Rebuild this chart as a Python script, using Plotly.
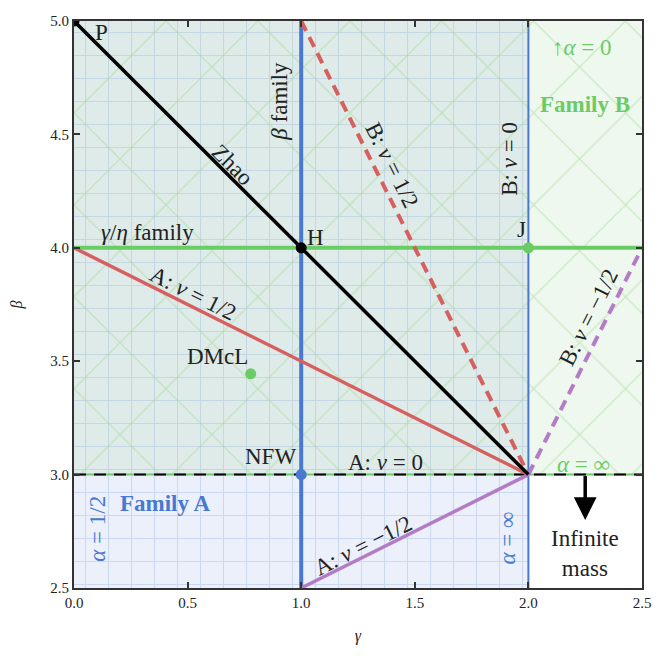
import plotly.graph_objects as go

# parameter-space boundaries
gamma_edges = [0.0, 2.0, 2.5]
beta_edges = [2.5, 3.0, 5.0]

# family curves (gamma, beta end points)
zhao_gamma = [0.0, 2.0]
zhao_beta = [5.0, 3.0]
a_half_gamma = [0.0, 2.0]
a_half_beta = [4.0, 3.0]
a_mhalf_gamma = [1.0, 2.0]
a_mhalf_beta = [2.5, 3.0]
b_half_gamma = [1.0, 2.0]
b_half_beta = [5.0, 3.0]
b_mhalf_gamma = [2.0, 2.5]
b_mhalf_beta = [3.0, 4.0]
beta_fam_gamma = [1.0, 1.0]
beta_fam_beta = [2.5, 5.0]
b_zero_gamma = [2.0, 2.0]
b_zero_beta = [2.5, 5.0]
ge_fam_gamma = [0.0, 2.5]
ge_fam_beta = [4.0, 4.0]
a_zero_gamma = [0.0, 2.5]
a_zero_beta = [3.0, 3.0]

# named models
pt_names = ["P", "H", "J", "NFW", "DMcL"]
pt_gamma = [0.0, 1.0, 2.0, 1.0, 7 / 9]
pt_beta = [5.0, 4.0, 4.0, 3.0, 31 / 9]

x_ticks = [0.0, 0.5, 1.0, 1.5, 2.0, 2.5]
y_ticks = [2.5, 3.0, 3.5, 4.0, 4.5, 5.0]

BLUE = "#4878CF"
GREEN = "#6ACC65"
RED = "#D65F5F"
PURPLE = "#B47CC7"
SERIF = "Liberation Serif"

g0, g1, g2 = gamma_edges
b0, b1, b2 = beta_edges


def rect(ga, gb, ba, bb):
    return [ga, gb, gb, ga, ga], [ba, ba, bb, bb, ba]


fig = go.Figure()

# background regions
x, y = rect(g0, g1, b0, b1)
fig.add_trace(go.Scatter(x=x, y=y, mode="lines", line=dict(width=0), fill="toself",
                         fillpattern=dict(shape="+", size=23, solidity=0.09,
                                          fgcolor="#a9c0ea", bgcolor="#ebf0fa")))
x, y = rect(g0, g1, b1, b2)
fig.add_trace(go.Scatter(x=x, y=y, mode="lines", line=dict(width=0), fill="toself",
                         fillpattern=dict(shape="+", size=23, solidity=0.09,
                                          fgcolor="#acc3dc", bgcolor="#dfebe8")))
x, y = rect(g1, g2, b1, b2)
fig.add_trace(go.Scatter(x=x, y=y, mode="lines", line=dict(width=0), fill="toself",
                         fillcolor="#eff8ef"))
x, y = rect(g0, g2, b1, b2)
fig.add_trace(go.Scatter(x=x, y=y, mode="lines", line=dict(width=0), fill="toself",
                         fillpattern=dict(shape="x", size=65, solidity=0.04,
                                          fgcolor="#a2da98", bgcolor="rgba(0,0,0,0)")))


def add_line(gx, by, color, width, dash="solid"):
    fig.add_trace(go.Scatter(x=gx, y=by, mode="lines",
                             line=dict(color=color, width=width, dash=dash)))


add_line(b_zero_gamma, b_zero_beta, BLUE, 2)
add_line(a_zero_gamma, a_zero_beta, GREEN, 2)
add_line(a_zero_gamma, a_zero_beta, "black", 2, "12px,8px")
add_line(beta_fam_gamma, beta_fam_beta, BLUE, 4)
add_line(ge_fam_gamma, ge_fam_beta, GREEN, 4)
add_line(a_half_gamma, a_half_beta, RED, 3.5)
add_line(b_half_gamma, b_half_beta, RED, 4, "11px,7px")
add_line(a_mhalf_gamma, a_mhalf_beta, PURPLE, 3.5)
add_line(b_mhalf_gamma, b_mhalf_beta, PURPLE, 4, "11px,7px")
add_line(zhao_gamma, zhao_beta, "black", 3.5)

pt_colors = ["black", "black", GREEN, BLUE, GREEN]
fig.add_trace(go.Scatter(x=pt_gamma, y=pt_beta, mode="markers",
                         marker=dict(color=pt_colors, size=11, line=dict(width=0))))

# annotations
def label(text, gx, by, angle=0, color="#222", size=23, weight="normal"):
    fig.add_annotation(x=gx, y=by, text=text, showarrow=False, textangle=angle,
                       xanchor="center", yanchor="middle",
                       font=dict(family=SERIF, size=size, color=color, weight=weight))


label("P", 0.123, 4.95)
label("H", 1.062, 4.046)
label("J", 1.969, 4.08)
label("Zhao", 0.696, 4.368, 45)
label("<i>β</i> family", 0.903, 4.645, -90)
label("<i>γ</i>/<i>η</i> family", 0.322, 4.068)
label("A: <i>ν</i> = 1/2", 0.524, 3.80, 26.57)
label("B: <i>ν</i> = 1/2", 1.40, 4.363, 63.43)
label("B: <i>ν</i> = 0", 1.916, 4.394, -90)
label("↑<i>α</i> = 0", 2.238, 4.883, color=GREEN)
label("Family B", 2.251, 4.632, color=GREEN, weight="bold")
label("B: <i>ν</i> = −1/2", 2.264, 3.694, -63.43)
label("DMcL", 0.63, 3.522)
label("NFW", 0.863, 3.081)
label("A: <i>ν</i> = 0", 1.37, 3.055)
label("<i>α</i> = ∞", 2.242, 3.046, color=GREEN)
label("Family A", 0.40, 2.874, color=BLUE, weight="bold")
label("<i>α</i> = 1/2", 0.10, 2.76, -90, color=BLUE)
label("<i>α</i> = ∞", 1.908, 2.72, -90, color=BLUE)
label("A: <i>ν</i> = −1/2", 1.273, 2.689, -26.57)
label("Infinite<br>mass", 2.251, 2.654)

fig.add_annotation(x=2.25, y=2.80, ax=2.25, ay=3.0, axref="x", ayref="y",
                   xref="x", yref="y", text="", showarrow=True,
                   arrowhead=2, arrowsize=1.3, arrowwidth=3.5, arrowcolor="black")

axis_common = dict(showline=True, linecolor="#333", linewidth=2, mirror="ticks",
                   ticks="inside", ticklen=6, tickwidth=1.5, tickcolor="#333",
                   showgrid=False, zeroline=False, tickformat=".1f", automargin=False,
                   tickfont=dict(family=SERIF, size=15, color="#222"))

fig.update_xaxes(range=[g0, g2], tickvals=x_ticks,
                 title=dict(text="<i>γ</i>", font=dict(family=SERIF, size=16, color="#222"),
                            standoff=20),
                 **axis_common)
fig.update_yaxes(range=[b0, b2], tickvals=y_ticks,
                 title=dict(text="<i>β</i>", font=dict(family=SERIF, size=16, color="#222"),
                            standoff=28),
                 **axis_common)

# page body adds an 8px offset, so the figure is sized to fit the window
fig.update_layout(width=657, height=648, showlegend=False,
                  margin=dict(l=66, r=23, t=13, b=68),
                  plot_bgcolor="white", paper_bgcolor="white",
                  hovermode=False)

fig.write_html("out.html")
